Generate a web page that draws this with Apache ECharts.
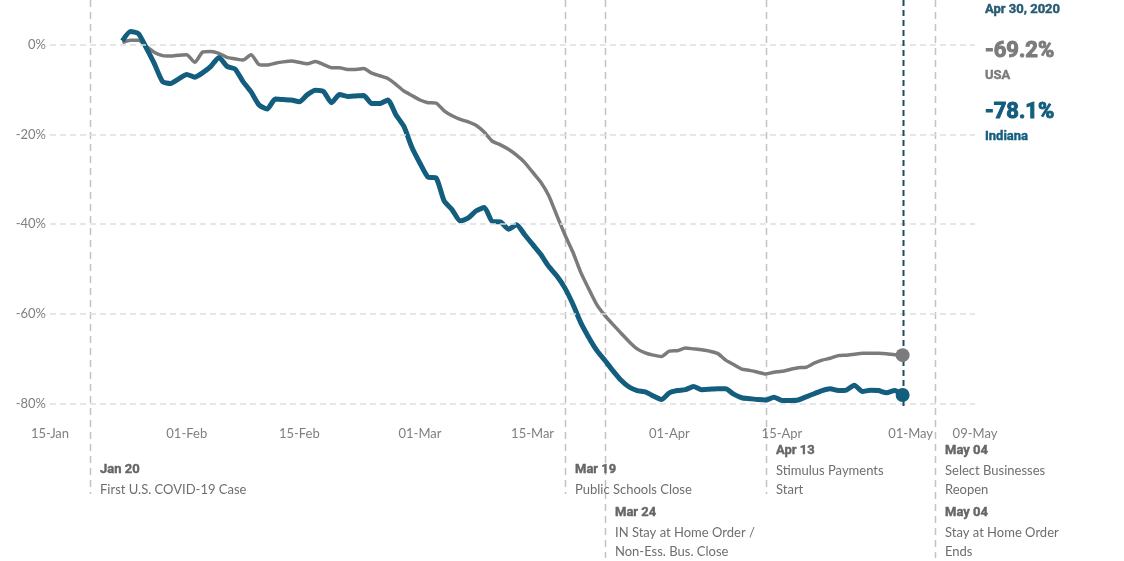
<!DOCTYPE html>
<html>
<head>
<meta charset="utf-8">
<script src="https://cdn.jsdelivr.net/npm/echarts@6/dist/echarts.min.js"></script>
<style>
  html, body { margin: 0; padding: 0; background: #fff; }
  #chart { width: 1124px; height: 561px; }
</style>
</head>
<body>
<div id="chart"></div>
<script>
// daily values starting 24-Jan-2020, ending 30-Apr-2020 (% change)
var startDate = [2020, 0, 24];
var usaValues = [
  0.5, 1.0, 1.0, -0.4, -1.7, -2.4, -2.5, -2.3, -2.2, -3.9,
  -1.6, -1.5, -1.9, -2.8, -3.1, -3.4, -2.2, -4.4, -4.5, -4.1,
  -3.8, -3.6, -3.9, -4.2, -3.7, -4.4, -5.1, -5.1, -5.5, -5.5,
  -5.3, -6.3, -6.9, -7.5, -8.8, -10.3, -11.3, -12.3, -12.9, -13.0,
  -14.7, -15.8, -16.6, -17.2, -18.0, -19.5, -21.5, -22.3, -23.3, -24.6,
  -26.2, -28.4, -30.6, -33.6, -38.0, -42.3, -46.2, -50.8, -54.5, -58.0,
  -60.4, -62.4, -64.3, -66.2, -67.8, -68.7, -69.2, -69.5, -68.3, -68.2,
  -67.6, -67.8, -68.0, -68.3, -68.8, -70.3, -71.3, -72.3, -72.6, -73.0,
  -73.4, -73.0, -72.8, -72.4, -72.0, -71.9, -71.0, -70.3, -69.9, -69.3,
  -69.2, -69.0, -68.8, -68.8, -68.8, -68.9, -69.1, -69.2
];
var indianaValues = [
  0.9, 3.0, 2.5, -0.8, -4.3, -8.2, -8.6, -7.6, -6.6, -7.2,
  -6.2, -4.8, -2.8, -4.8, -5.4, -8.2, -10.5, -13.4, -14.3, -12.1,
  -12.2, -12.3, -12.7, -11.1, -10.1, -10.4, -12.9, -11.1, -11.5, -11.4,
  -11.3, -13.1, -13.1, -12.3, -15.6, -18.2, -22.9, -26.4, -29.5, -29.7,
  -34.8, -36.8, -39.3, -38.6, -37.0, -36.3, -39.4, -39.5, -41.1, -40.1,
  -42.3, -44.5, -46.7, -49.4, -51.5, -54.2, -57.8, -62.0, -65.3, -68.2,
  -70.4, -72.7, -74.8, -76.3, -77.1, -77.4, -78.3, -79.1, -77.6, -77.1,
  -76.9, -76.2, -76.9, -76.8, -76.7, -76.7, -77.9, -78.7, -78.9, -79.1,
  -79.2, -78.6, -79.3, -79.3, -79.2, -78.5, -77.8, -77.1, -76.7, -77.1,
  -77.0, -75.9, -77.3, -77.0, -77.1, -77.6, -77.1, -78.1
];
var xTickDates = ['2020-01-15', '2020-02-01', '2020-02-15', '2020-03-01', '2020-03-15',
                  '2020-04-01', '2020-04-15', '2020-05-01', '2020-05-09'];
var xTickLabels = ['15-Jan', '01-Feb', '15-Feb', '01-Mar', '15-Mar',
                   '01-Apr', '15-Apr', '01-May', '09-May'];
var yTicks = [0, -20, -40, -60, -80];
var yTickLabels = ['0%', '-20%', '-40%', '-60%', '-80%'];
var events = [
  { date: '2020-01-20', title: 'Jan 20', text: ['First U.S. COVID-19 Case'] },
  { date: '2020-03-19', title: 'Mar 19', text: ['Public Schools Close'] },
  { date: '2020-03-24', title: 'Mar 24', text: ['IN Stay at Home Order /', 'Non-Ess. Bus. Close'] },
  { date: '2020-04-13', title: 'Apr 13', text: ['Stimulus Payments', 'Start'] },
  { date: '2020-05-04', title: 'May 04', text: ['Select Businesses', 'Reopen'] },
  { date: '2020-05-04', title: 'May 04', text: ['Stay at Home Order', 'Ends'] }
];
var lastDate = '2020-04-30';
var lastLabel = 'Apr 30, 2020';
var usaLast = '-69.2%';
var indianaLast = '-78.1%';

var FONT = 'Lato';
var BOLD_FONT = 'Roboto';
var BLUE = '#135d7e';
var GREY = '#7b7b7b';

function ts(s) {
  var p = s.split('-');
  return new Date(+p[0], +p[1] - 1, +p[2]).getTime();
}

function buildSeries(values) {
  var out = [];
  for (var i = 0; i < values.length; i++) {
    var d = new Date(startDate[0], startDate[1], startDate[2] + i).getTime();
    out.push([d, values[i]]);
  }
  return out;
}

var usaData = buildSeries(usaValues);
var indianaData = buildSeries(indianaValues);
var xTickTs = xTickDates.map(ts);

var chart = echarts.init(document.getElementById('chart'));

chart.setOption({
  animation: false,
  textStyle: { fontFamily: FONT },
  grid: { left: 50, right: 149, top: 0, bottom: 135 },
  xAxis: {
    type: 'value',
    min: ts('2020-01-15'),
    max: ts('2020-05-09'),
    axisLine: { show: false },
    axisTick: { show: false },
    splitLine: { show: false },
    axisLabel: {
      customValues: xTickTs,
      showMinLabel: true,
      showMaxLabel: true,
      hideOverlap: false,
      margin: 1,
      color: '#7f7f7f',
      fontSize: 13,
      fontFamily: FONT,
      formatter: function (v) {
        var i = xTickTs.indexOf(v);
        return i >= 0 ? xTickLabels[i] : '';
      }
    }
  },
  yAxis: {
    type: 'value',
    min: -85,
    max: 10,
    axisLine: { show: false },
    axisTick: { show: false },
    splitLine: { show: false },
    axisLabel: {
      customValues: yTicks,
      margin: 4,
      color: '#7f7f7f',
      fontSize: 13,
      fontFamily: FONT,
      formatter: function (v) {
        var i = yTicks.indexOf(v);
        return i >= 0 ? yTickLabels[i] : '';
      }
    }
  },
  series: [
    {
      name: 'grid',
      type: 'line',
      data: [],
      z: 1,
      silent: true,
      markLine: {
        silent: true,
        symbol: 'none',
        label: { show: false },
        lineStyle: { color: '#dedede', type: [6, 4], width: 1.5 },
        data: yTicks.map(function (v) { return { yAxis: v }; })
      }
    },
    {
      name: 'USA',
      type: 'line',
      data: usaData,
      showSymbol: false,
      symbol: 'none',
      smooth: 0.2,
      z: 3,
      lineStyle: { color: GREY, width: 3.5 }
    },
    {
      name: 'Indiana',
      type: 'line',
      data: indianaData,
      showSymbol: false,
      symbol: 'none',
      smooth: 0.2,
      z: 4,
      lineStyle: { color: BLUE, width: 5 }
    },
    {
      name: 'ends',
      type: 'scatter',
      z: 6,
      symbolSize: 14,
      data: [
        { value: usaData[usaData.length - 1], itemStyle: { color: GREY, opacity: 1 } },
        { value: indianaData[indianaData.length - 1], itemStyle: { color: BLUE, opacity: 1 } }
      ]
    }
  ]
});

// event lines and labels, placed with the axis scale
var rowTop = [470, 470, 513, 451, 451, 513];
var eventEnd = [494, 494, 558, 494, 494, 558];
var graphics = [];
var drawn = {};
events.forEach(function (ev, i) {
  var x = Math.round(chart.convertToPixel({ xAxisIndex: 0 }, ts(ev.date))) + 0.5;
  if (!drawn[ev.date] || drawn[ev.date] < eventEnd[i]) {
    drawn[ev.date] = eventEnd[i];
  }
  var lines = [ev.title].concat(ev.text);
  lines.forEach(function (t, k) {
    var isTitle = k === 0;
    graphics.push({
      type: 'text',
      x: x + 9.5,
      y: rowTop[i] + k * 19.5,
      z: 10,
      style: {
        text: t,
        fill: isTitle ? '#666666' : '#6e6e6e',
        stroke: isTitle ? '#666666' : null,
        lineWidth: isTitle ? 0.4 : 0,
        font: isTitle ? 'bold 13px ' + BOLD_FONT : '13px ' + FONT,
        verticalAlign: 'middle',
        align: 'left'
      }
    });
  });
});
Object.keys(drawn).forEach(function (d) {
  var x = Math.round(chart.convertToPixel({ xAxisIndex: 0 }, ts(d))) + 0.5;
  graphics.push({
    type: 'line',
    z: 0,
    shape: { x1: x, y1: 0, x2: x, y2: drawn[d] },
    style: { stroke: '#c2c2c2', lineWidth: 1.5, lineDash: [7, 5] }
  });
});

// highlighted last date
var lx = Math.round(chart.convertToPixel({ xAxisIndex: 0 }, ts(lastDate))) + 0.5;
var ly = chart.convertToPixel({ yAxisIndex: 0 }, -81);
graphics.push({
  type: 'line',
  z: 5,
  shape: { x1: lx, y1: 0, x2: lx, y2: ly },
  style: { stroke: '#1d4d5e', lineWidth: 2, lineDash: [6, 4] }
});

var rx = 985;
var panel = [
  { t: lastLabel, y: 10, size: 13, color: '#255a72', sw: 0.4 },
  { t: usaLast, y: 51, size: 22, color: GREY, sw: 1 },
  { t: 'USA', y: 76, size: 13, color: GREY, sw: 0.4 },
  { t: indianaLast, y: 112, size: 22, color: BLUE, sw: 1 },
  { t: 'Indiana', y: 137, size: 13, color: BLUE, sw: 0.4 }
];
panel.forEach(function (p) {
  graphics.push({
    type: 'text',
    x: rx,
    y: p.y,
    z: 10,
    style: {
      text: p.t,
      fill: p.color,
      stroke: p.color,
      lineWidth: p.sw,
      font: 'bold ' + p.size + 'px ' + BOLD_FONT,
      verticalAlign: 'middle',
      align: 'left'
    }
  });
});

chart.setOption({ graphic: graphics });
</script>
</body>
</html>
